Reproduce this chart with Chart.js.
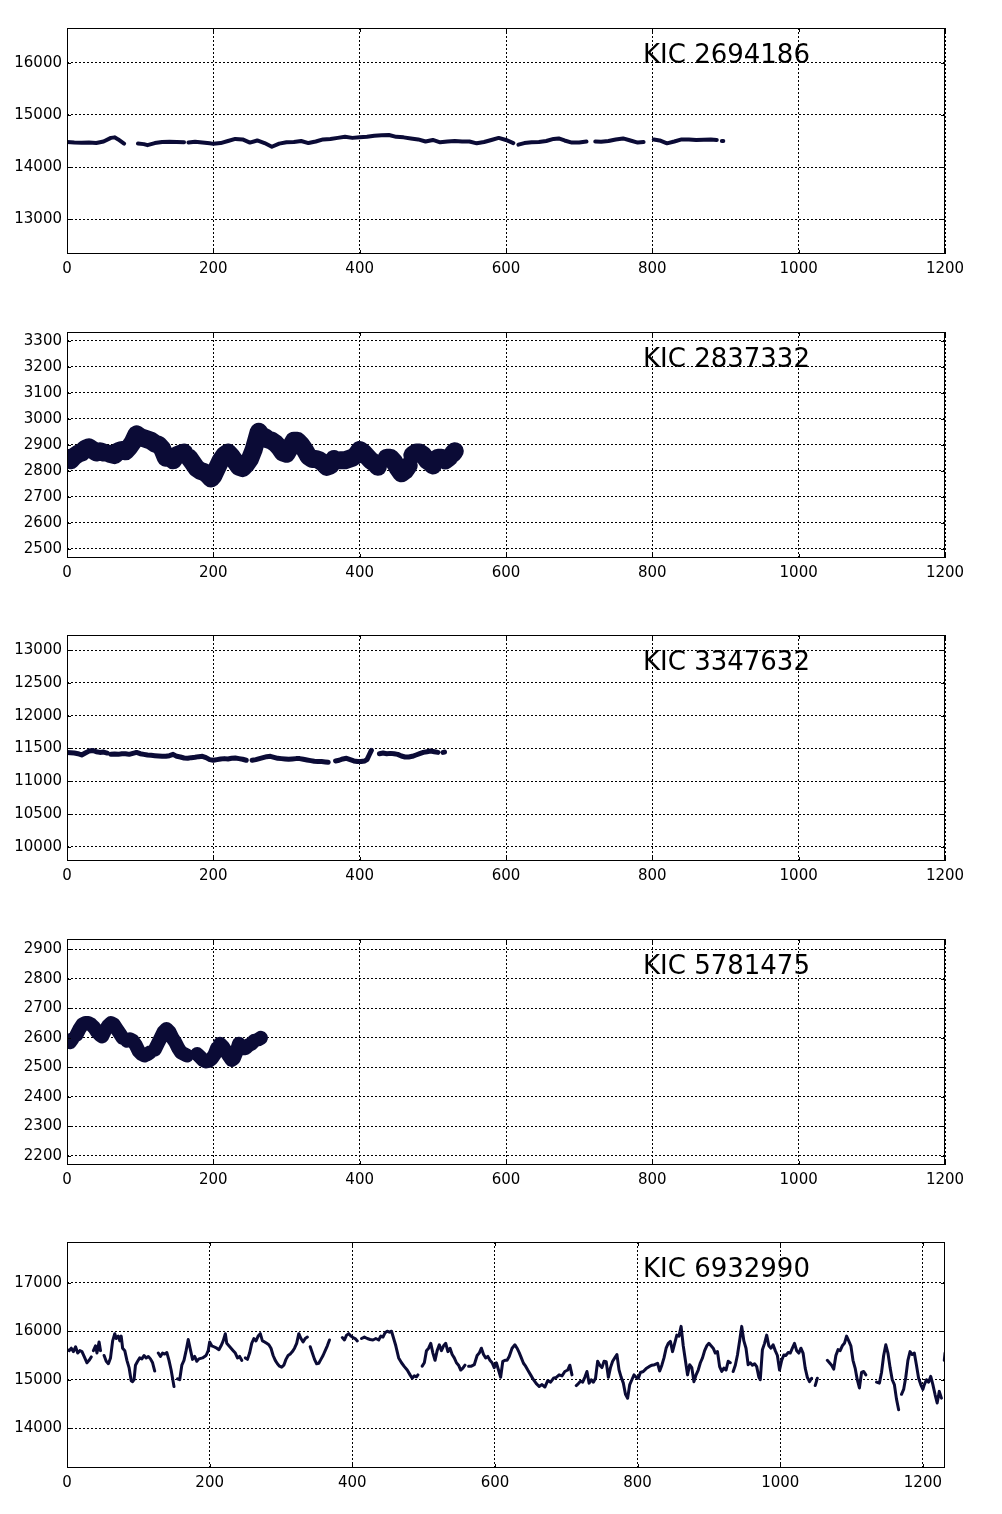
<!DOCTYPE html>
<html>
<head>
<meta charset="utf-8">
<script src="https://cdn.jsdelivr.net/npm/chart.js@4/dist/chart.umd.min.js"></script>
<style>
  body { margin: 0; background: #fff; width: 1002px; height: 1514px; position: relative; overflow: hidden; }
  .panel { position: absolute; left: 0; }
  .panel canvas { display: block; }
</style>
</head>
<body>
<script>
// Star names, one per panel
const names = ['KIC 2694186', 'KIC 2837332', 'KIC 3347632', 'KIC 5781475', 'KIC 6932990'];

// Tick labels
const xTicks = [0, 200, 400, 600, 800, 1000, 1200];
const yTicks1 = [13000, 14000, 15000, 16000];
const yTicks2 = [2500, 2600, 2700, 2800, 2900, 3000, 3100, 3200, 3300];
const yTicks3 = [10000, 10500, 11000, 11500, 12000, 12500, 13000];
const yTicks4 = [2200, 2300, 2400, 2500, 2600, 2700, 2800, 2900];
const yTicks5 = [14000, 15000, 16000, 17000];

// Axis limits
const yRange1 = [12327, 16673];
const yRange2 = [2464, 3334];
const yRange3 = [9784, 13230];
const yRange4 = [2169, 2935];
const yRange5 = [13180, 17840];
const xMax = [1200, 1200, 1200, 1200, 1231];

// KIC 2694186 (null = gap in the data)
const time1 = [0, 10, 20, 30, 40, 50, 60, 65, 70, 78, 88,
  97, 105, 110, 120, 130, 140, 150, 160, 163,
  166, 175, 185, 195, 200, 210, 220, 230, 240, 250, 260, 270, 280, 290, 300, 310, 320, 330, 340, 350,
  360, 370, 380, 390, 400, 410, 420, 430, 440, 450, 460, 470, 480, 490, 500, 510, 520, 530, 540, 550,
  560, 570, 580, 590, 600, 610, 613,
  617, 625, 635, 645, 655, 665, 672, 680, 690, 700, 710, 718,
  722, 730, 740, 750, 760, 770, 780, 788, 795,
  802, 810, 820, 830, 840, 850, 860, 870, 880, 888, 893, 895, 897];
const flux1 = [14480, 14470, 14465, 14470, 14460, 14490, 14560, 14570, 14530, 14450, null,
  14450, 14440, 14420, 14460, 14480, 14485, 14480, 14475, null,
  14470, 14485, 14470, 14455, 14445, 14460, 14500, 14540, 14530, 14470, 14510, 14460, 14390, 14450, 14475, 14480, 14500, 14460, 14490, 14530,
  14540, 14560, 14580, 14560, 14570, 14580, 14600, 14610, 14615, 14580, 14570, 14550, 14530, 14490, 14520, 14475, 14490, 14500, 14490, 14490,
  14455, 14480, 14520, 14560, 14520, 14460, null,
  14430, 14460, 14475, 14480, 14500, 14540, 14550, 14510, 14470, 14470, 14490, null,
  14490, 14485, 14500, 14530, 14550, 14510, 14470, 14480, null,
  14530, 14510, 14455, 14490, 14530, 14530, 14520, 14525, 14530, 14520, null, 14500, 14500];

// KIC 2837332
const time2 = [0, 5, 10, 15, 20, 25, 30, 35, 40, 45, 50, 53,
  58, 65, 70, 75, 80, 85, 90, 95, 100, 105, 110, 115, 120, 125, 130, 135, 137,
  140, 145, 150, 155, 160, 163,
  167, 172, 177, 182, 187, 192, 197, 200, 205, 210, 215, 220, 225, 230, 235, 240, 245, 250, 255, 258,
  262, 266, 270, 275, 280, 285, 290, 295, 300, 305, 310, 315, 320, 325, 330, 335, 340, 345, 350, 355,
  360, 365, 368,
  373, 380, 385, 390, 395, 400, 405, 410, 415, 420, 425, 428,
  437, 442, 447, 452, 457, 462, 467, 469,
  472, 477, 482, 487, 492, 497, 500, 503,
  507, 512, 517, 522, 524, 527, 530];
const flux2 = [2850, 2840, 2855, 2865, 2870, 2885, 2890, 2880, 2870, 2875, 2870, null,
  2865, 2860, 2875, 2880, 2875, 2890, 2910, 2940, 2930, 2925, 2920, 2915, 2905, 2900, 2885, 2850, null,
  2855, 2840, 2860, 2865, 2870, null,
  2850, 2830, 2810, 2800, 2795, 2785, 2770, 2780, 2810, 2840, 2860, 2870, 2855, 2835, 2815, 2810, 2825, 2845, 2880, 2910,
  2950, 2935, 2930, 2920, 2915, 2905, 2890, 2870, 2865, 2890, 2915, 2915, 2900, 2880, 2855, 2845, 2845, 2840, 2830, 2815,
  2820, 2845, null,
  2840, 2840, 2845, 2850, 2860, 2880, 2870, 2855, 2840, 2830, 2815, null,
  2850, 2850, 2835, 2810, 2790, 2800, 2820, null,
  2860, 2870, 2870, 2860, 2840, 2830, 2820, null,
  2850, 2850, 2840, 2850, null, 2865, 2875];

// KIC 3347632
const time3 = [0, 5, 10, 15, 20, 25, 30, 35, 40, 45, 50, 55, 58,
  60, 65, 70, 75, 80, 85, 90, 95, 100, 105, 110, 115, 120, 125, 130, 135, 140, 145, 150, 155, 160, 165,
  170, 175, 180, 185, 190, 195, 200, 205, 210, 215, 220, 225, 230, 235, 240, 245, 248,
  253, 258, 263, 268, 273, 278, 283, 288, 293, 298, 303, 308, 313, 318, 323, 328, 333, 338, 343, 348,
  353, 357, 360,
  367, 372, 377, 382, 387, 392, 397, 402, 407, 410, 413, 416, 419,
  427, 432, 437, 442, 447, 452, 457, 462, 467, 472, 477, 482, 487, 492, 497, 502, 507, 510,
  514, 516];
const flux3 = [11440, 11435, 11430, 11420, 11400, 11430, 11460, 11470, 11450, 11440, 11445, 11430, null,
  11410, 11415, 11410, 11420, 11420, 11410, 11425, 11440, 11420, 11410, 11400, 11395, 11390, 11385, 11380, 11380, 11390, 11410, 11380, 11370, 11355, 11350,
  11360, 11365, 11375, 11380, 11360, 11330, 11320, 11330, 11340, 11345, 11340, 11350, 11355, 11345, 11335, 11320, null,
  11320, 11330, 11345, 11360, 11375, 11380, 11365, 11350, 11345, 11340, 11335, 11340, 11345, 11345, 11335, 11325, 11315, 11305, 11300, 11300,
  11295, 11290, null,
  11310, 11320, 11340, 11350, 11330, 11310, 11300, 11300, 11310, 11330, 11400, 11470, null,
  11420, 11430, 11420, 11425, 11420, 11410, 11385, 11370, 11370, 11380, 11400, 11420, 11440, 11450, 11460, 11450, 11440, null,
  11440, 11445];

// KIC 5781475
const time4 = [0, 4, 7, 9,
  13, 17, 21, 25, 29, 33, 37, 41, 45, 48, 52, 56, 60, 64, 68, 72, 76, 78,
  82, 86, 90, 94, 98, 102, 106, 108,
  110, 113, 115,
  120, 124, 128, 132, 136, 140, 144, 148, 152, 156, 160, 164, 166,
  178, 182, 186, 190, 194, 198, 202, 205, 207,
  209, 213, 217, 221, 225, 228, 232, 235, 237,
  240, 244, 248, 252, 256, 259, 262, 265];
const flux4 = [2590, 2585, 2595, null,
  2610, 2630, 2645, 2650, 2650, 2645, 2635, 2620, 2610, 2605, 2625, 2640, 2650, 2645, 2630, 2615, 2600, null,
  2590, 2595, 2590, 2575, 2555, 2545, 2540, null,
  2545, 2550, null,
  2560, 2580, 2600, 2620, 2630, 2620, 2600, 2585, 2565, 2550, 2545, 2540, null,
  2545, 2535, 2525, 2520, 2522, 2530, 2545, 2565, null,
  2580, 2570, 2555, 2540, 2525, 2530, 2555, 2580, null,
  2565, 2565, 2575, 2580, 2590, null, 2595, 2600];

// KIC 6932990
const time5 = [0, 3, 6, 9, 12, 15, 18, 21, 24, 28, 31, 34, 36,
  37, 40, 42, 45, 47, 49,
  52, 55, 58, 61, 64, 67, 69, 72, 74, 76, 78, 81, 84, 87, 90, 92, 94, 96, 99, 102, 105, 108, 111, 114, 117, 120, 123, 125,
  128, 131, 134, 137, 140, 143, 146, 150, 152,
  155, 158, 161, 164, 167, 170, 173, 176, 179, 182, 185, 190, 195, 198, 200, 203, 206, 210, 213, 216, 219, 222, 224, 227,
  230, 233, 236, 239, 242, 245, 247,
  250, 253, 256, 259, 262, 265, 268, 271, 274, 277, 280, 283, 286, 289, 292, 295, 298, 301, 304, 307, 310, 313, 316, 319,
  322, 325, 328, 331, 334, 337, 339,
  341, 344, 347, 350, 353, 356, 359, 362, 365, 368, 370,
  386, 389, 392, 395, 398, 401, 404, 407, 409,
  413, 417, 421, 425, 429, 433, 437, 440, 443, 446, 449, 452, 455, 458, 461, 465, 469, 473, 477, 481, 484, 487, 490, 492, 494,
  498, 501, 504, 507, 510, 513, 516, 519, 522, 525, 528, 531, 534, 537, 540, 543, 546, 549, 552, 555, 558, 560,
  563, 567, 571, 575, 578, 581, 584, 587, 590, 593, 596, 599, 602, 605, 608, 611, 614, 617, 620, 624, 628, 631, 634, 637,
  640, 643, 646, 650, 654, 658, 662, 666, 670, 674, 678, 682, 686, 690, 694, 698, 702, 705, 708, 710,
  714, 717, 720, 723, 726, 729, 732, 735, 738, 741, 744, 747, 750, 753, 756, 759, 762, 765, 768, 771, 774, 777, 780, 783,
  786, 789, 792, 795, 798, 801, 804, 808, 812, 816, 820, 824, 828, 831, 834, 837, 840, 843, 846, 849, 852, 855, 858, 861,
  864, 867, 870, 873, 876, 879, 882, 885, 888, 891, 894, 897, 900, 903, 906, 909, 912, 915, 918, 921, 924, 927, 930, 932,
  934, 937, 940, 943, 946, 949, 952, 955, 958, 961, 964, 967, 970, 972, 975, 978, 981, 984, 987, 990, 993, 996, 999, 1002,
  1005, 1008, 1011, 1014, 1017, 1020, 1023, 1026, 1029, 1032, 1035, 1038, 1041, 1044, 1046,
  1049, 1052, 1054,
  1066, 1069, 1072, 1075, 1078, 1081, 1084, 1087, 1090, 1093, 1096, 1099, 1102, 1105, 1108, 1111, 1114, 1117, 1120, 1122,
  1135, 1139, 1142, 1145, 1148, 1151, 1154, 1157, 1160, 1163, 1166, 1168,
  1170, 1173, 1176, 1179, 1182, 1185, 1188, 1191, 1194, 1197, 1200, 1202, 1205, 1208, 1211, 1214, 1217, 1220, 1223, 1226, 1228,
  1230, 1231];
const flux5 = [15620, 15600, 15650, 15580, 15680, 15550, 15600, 15580, 15480, 15350, 15400, 15470, null,
  15600, 15700, 15550, 15780, 15600, null,
  15500, 15380, 15330, 15450, 15800, 15950, 15850, 15900, 15800, 15900, 15650, 15600, 15400, 15250, 14980, 14960, 15000, 15300, 15380, 15450, 15430, 15500, 15450, 15480, 15430, 15350, 15180, null,
  15550, 15480, 15550, 15530, 15560, 15400, 15200, 14860, null,
  15020, 15000, 15300, 15400, 15600, 15830, 15620, 15420, 15480, 15380, 15430, 15450, 15500, 15600, 15780, 15700, 15680, 15650, 15620, 15700, 15800, 15950, 15750, 15700,
  15650, 15600, 15550, 15450, 15480, 15400, null,
  15450, 15420, 15550, 15750, 15850, 15800, 15900, 15950, 15800, 15780, 15750, 15720, 15650, 15500, 15400, 15330, 15280, 15260, 15300, 15420, 15500, 15530, 15580, 15650,
  15750, 15950, 15850, 15780, 15850, 15880, null,
  15680, 15550, 15420, 15330, 15340, 15420, 15500, 15600, 15700, 15820, null,
  15870, 15820, 15920, 15950, 15900, 15870, 15850, 15800, null,
  15850, 15880, 15850, 15830, 15820, 15850, 15820, 15900, 15880, 15970, 16000, 15980, 16000, 15850, 15700, 15450, 15350, 15270, 15200, 15100, 15030, 15080, 15060, 15100, null,
  15280, 15350, 15600, 15650, 15750, 15550, 15400, 15600, 15720, 15600, 15700, 15750, 15580, 15650, 15520, 15450, 15350, 15300, 15200, 15240, 15300, null,
  15280, 15280, 15310, 15500, 15550, 15650, 15520, 15450, 15480, 15400, 15350, 15250, 15350, 15200, 15050, 15380, 15400, 15400, 15480, 15650, 15720, 15650, 15560, 15450,
  15340, 15280, 15200, 15100, 15000, 14920, 14860, 14900, 14850, 14980, 14950, 15030, 15050, 15100, 15080, 15170, 15200, 15300, 15100, null,
  14880, 14920, 14970, 14950, 15050, 15170, 14930, 15000, 14950, 15030, 15380, 15300, 15250, 15380, 15370, 15050, 15250, 15380, 15450, 15520, 15200, 15050, 14930, 14700,
  14620, 14900, 15000, 15100, 15050, 15030, 15150, 15170, 15230, 15270, 15300, 15310, 15340, 15180, 15300, 15450, 15650, 15750, 15790, 15580, 15750, 15920, 15900, 16100,
  15700, 15400, 15100, 15310, 15250, 14960, 15100, 15200, 15350, 15450, 15600, 15700, 15750, 15700, 15650, 15550, 15580, 15270, 15170, 15240, 15200, 15380, 15350, null,
  15170, 15300, 15510, 15800, 16100, 15800, 15650, 15310, 15350, 15300, 15330, 15270, 15050, 15000, 15620, 15750, 15920, 15700, 15650, 15720, 15600, 15500, 15200, 15400,
  15510, 15500, 15560, 15550, 15650, 15750, 15600, 15550, 15650, 15550, 15240, 15050, 14960, 15030, null,
  14880, 15030, null,
  15400, 15350, 15300, 15220, 15500, 15620, 15600, 15700, 15750, 15900, 15800, 15700, 15400, 15240, 15000, 14830, 15150, 15170, 15100, null,
  14950, 14930, 15150, 15500, 15720, 15550, 15250, 15000, 14900, 14600, 14380, null,
  14700, 14800, 15050, 15400, 15580, 15520, 15550, 15300, 15030, 14900, 14800, 14900, 15000, 14950, 15070, 14900, 14700, 14520, 14760, 14620, null,
  15400, 15550];

const panelTops = [28, 332, 635, 939, 1242];
const plotHeight = 226;
const lineColor = '#0b0b36';
const fontFamily = "'DejaVu Sans', sans-serif";

// Draws the box round the plot, inward tick marks and the star name
const framePlugin = {
  id: 'frame',
  afterDraw(chart) {
    const { ctx, chartArea: a, scales } = chart;
    ctx.save();
    ctx.setLineDash([]);
    ctx.strokeStyle = '#000';
    ctx.lineWidth = 1;
    ctx.strokeRect(Math.round(a.left) + 0.5, Math.round(a.top) + 0.5,
      Math.round(a.width) - 1, Math.round(a.height) - 1);
    ctx.beginPath();
    scales.x.ticks.forEach(t => {
      const px = Math.round(scales.x.getPixelForValue(t.value)) + 0.5;
      ctx.moveTo(px, a.bottom); ctx.lineTo(px, a.bottom - 4);
      ctx.moveTo(px, a.top); ctx.lineTo(px, a.top + 4);
    });
    scales.y.ticks.forEach(t => {
      const py = Math.round(scales.y.getPixelForValue(t.value)) + 0.5;
      ctx.moveTo(a.left, py); ctx.lineTo(a.left + 4, py);
      ctx.moveTo(a.right, py); ctx.lineTo(a.right - 4, py);
    });
    ctx.stroke();
    ctx.fillStyle = '#000';
    ctx.font = '26px ' + fontFamily;
    ctx.textBaseline = 'alphabetic';
    ctx.fillText(chart.options.plugins.frame.label, 643, a.top + 35);
    ctx.restore();
  }
};

// Function to build one panel
function makePanel(i, times, flux, yRange, yTicks, lineWidth) {
  const top = panelTops[i];
  const div = document.createElement('div');
  div.className = 'panel';
  div.style.top = (top - 10) + 'px';
  const canvas = document.createElement('canvas');
  canvas.width = 1002;
  canvas.height = plotHeight + 40;
  div.appendChild(canvas);
  document.body.appendChild(div);

  const points = times.map((t, k) => ({ x: t, y: flux[k] }));
  const tickFont = { family: fontFamily, size: 15 };

  new Chart(canvas.getContext('2d'), {
    type: 'scatter',
    data: {
      datasets: [{
        data: points,
        showLine: true,
        spanGaps: false,
        borderColor: lineColor,
        backgroundColor: lineColor,
        borderWidth: lineWidth,
        borderJoinStyle: 'round',
        borderCapStyle: 'round',
        pointRadius: 0,
        tension: 0
      }]
    },
    options: {
      responsive: false,
      animation: false,
      devicePixelRatio: 1,
      layout: { padding: { left: 0, right: 57, top: 10, bottom: 0 } },
      plugins: {
        legend: { display: false },
        tooltip: { enabled: false },
        frame: { label: names[i] }
      },
      scales: {
        x: {
          type: 'linear',
          min: 0,
          max: xMax[i],
          afterBuildTicks: s => { s.ticks = xTicks.map(v => ({ value: v })); },
          afterFit: s => { s.height = 30; s.paddingLeft = 0; s.paddingRight = 0; },
          grid: { color: '#000', lineWidth: 1, drawTicks: false },
          border: { display: false, dash: [2, 2] },
          ticks: { color: '#000', font: tickFont, padding: 6, maxRotation: 0, autoSkip: false,
            callback: v => String(v) }
        },
        y: {
          type: 'linear',
          min: yRange[0],
          max: yRange[1],
          afterBuildTicks: s => { s.ticks = yTicks.map(v => ({ value: v })); },
          afterFit: s => { s.width = 67; s.paddingTop = 0; s.paddingBottom = 0; },
          grid: { color: '#000', lineWidth: 1, drawTicks: false },
          border: { display: false, dash: [2, 2] },
          ticks: { color: '#000', font: tickFont, padding: 5, autoSkip: false,
            callback: v => String(v) }
        }
      }
    },
    plugins: [framePlugin]
  });
}

makePanel(0, time1, flux1, yRange1, yTicks1, 4);
makePanel(1, time2, flux2, yRange2, yTicks2, 18);
makePanel(2, time3, flux3, yRange3, yTicks3, 5);
makePanel(3, time4, flux4, yRange4, yTicks4, 14);
makePanel(4, time5, flux5, yRange5, yTicks5, 3);
</script>
</body>
</html>
